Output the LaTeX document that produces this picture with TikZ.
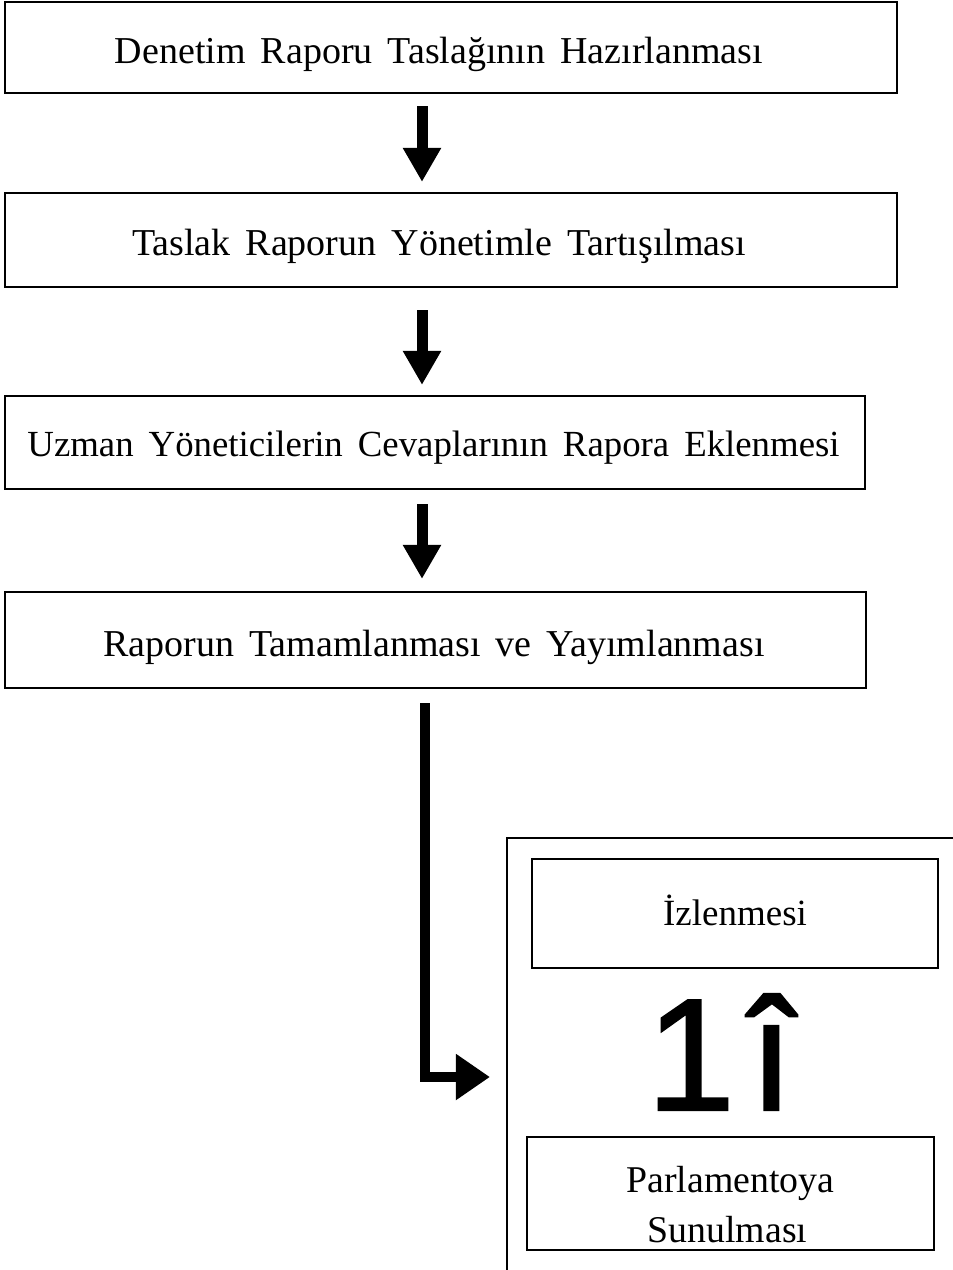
\documentclass[tikz,border=0pt]{standalone}
\usepackage{fontspec}
\setmainfont{Liberation Serif}
\newfontfamily\glyphfont{Liberation Sans}[FakeBold=1.2]
\usetikzlibrary{arrows.meta}
\newcommand{\stagefont}[1]{\fontsize{#1}{46}\selectfont\spaceskip=15pt plus 2pt minus 2pt\relax}
\begin{document}
\begin{tikzpicture}[x=1pt,y=-1pt,
  stage/.style={draw,line width=2.2pt,inner sep=0pt,text height=31pt,text depth=0pt,font=\stagefont{38}},
  bigarrow/.style={line width=11pt,-{Triangle[length=34pt,width=36pt]}},
  elbowarrow/.style={line width=10pt,-{Triangle[length=34pt,width=44pt]}}]
\clip (0,0) rectangle (953,1270);
\coordinate (axis) at (422,0);
% main sequence of stages
\node[stage,minimum width=892pt,minimum height=91pt] (b1) at (451,47.5) {Denetim Raporu Taslağının Hazırlanması\hspace*{24pt}};
\node[stage,minimum width=892pt,minimum height=94pt] (b2) at (451,240) {Taslak Raporun Yönetimle Tartışılması\hspace*{24pt}};
\node[stage,minimum width=860pt,minimum height=93pt,text height=28pt,font=\stagefont{36.8}] (b3) at (435,442.5) {Uzman Yöneticilerin Cevaplarının Rapora Eklenmesi\hspace*{3pt}};
\node[stage,minimum width=861pt,minimum height=96pt,text height=32pt] (b4) at (435.5,640) {Raporun Tamamlanması ve Yayımlanması\hspace*{3pt}};
% follow-up frame
\node[draw,line width=2.2pt,minimum width=500pt,minimum height=500pt,inner sep=0pt] (frame) at (757,1088) {};
\node[stage,minimum width=406pt,minimum height=109pt,text height=23pt,font=\stagefont{37}] (mon) at (735,913.5) {İzlenmesi};
\node[stage,minimum width=407pt,minimum height=113pt,align=center,text height=97pt,text depth=0pt,font=\fontsize{37.8}{50}\selectfont] (parl) at (730.5,1193.5) {Parlamentoya\\Sunulması\hspace*{6pt}};
\node[inner sep=0pt,font=\glyphfont\fontsize{160}{160}\selectfont] (mark) at (720,1052) {1\hspace{14pt}î};
% connectors
\draw[bigarrow,shorten <=12pt,shorten >=10pt] (b1.south -| axis) -- (b2.north -| axis);
\draw[bigarrow,shorten <=22pt,shorten >=10pt] (b2.south -| axis) -- (b3.north -| axis);
\draw[bigarrow,shorten <=14pt,shorten >=12pt] (b3.south -| axis) -- (b4.north -| axis);
\coordinate (bend) at (424.5,1077);
\draw[elbowarrow,shorten <=14pt,shorten >=16pt] (b4.south -| bend) -- (bend) -- (bend -| frame.west);
\end{tikzpicture}
\end{document}
